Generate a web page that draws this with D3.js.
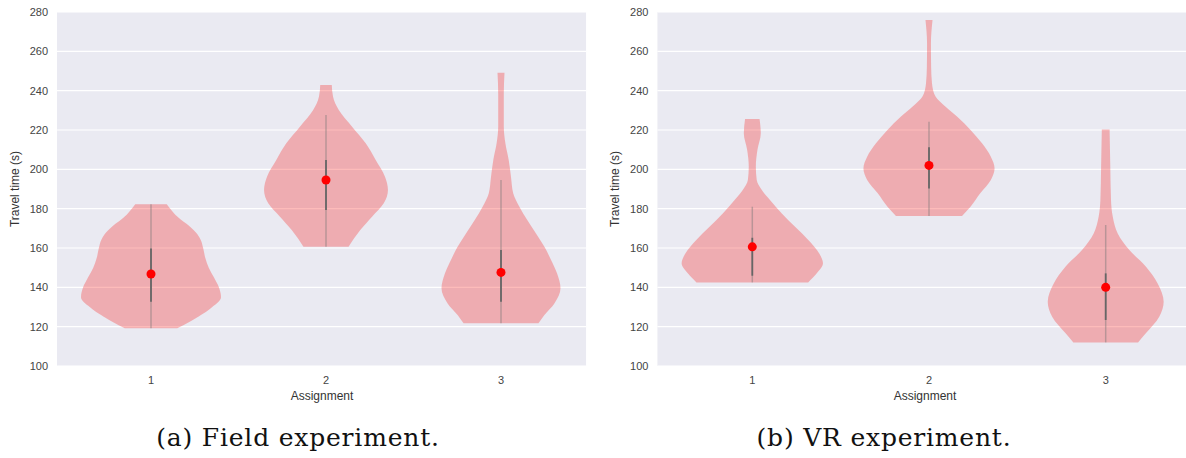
<!DOCTYPE html>
<html lang="en">
<head>
<meta charset="UTF-8">
<title>Travel time violins</title>
<script src="https://d3js.org/d3.v7.min.js"></script>
<style>
    body { margin: 0; background: #fff; }
    .tick-label { font-family: "Liberation Sans", Arial, sans-serif; font-size: 11px; fill: #444; }
    .axis-title { font-family: "Liberation Sans", Arial, sans-serif; font-size: 12px; fill: #333; }
    .caption { font-family: "DejaVu Serif", serif; font-size: 25px; letter-spacing: 0.8px; fill: #111; }
</style>
</head>
<body>
<div id="chart"></div>
<script>
// categories and y ticks
const categories = ["1", "2", "3"];
const yTicks = [100, 120, 140, 160, 180, 200, 220, 240, 260, 280];

// violin outlines: [travel time, half width in category units]
const field1 = [[182.2,0.09],[180,0.11],[176,0.15],[171,0.22],[167,0.265],[164,0.285],[160,0.298],[155,0.31],[150,0.33],[145,0.36],[140,0.388],[135,0.40],[130,0.35],[125,0.27],[121,0.19],[119.2,0.15]];
const field2 = [[242.9,0.033],[237,0.04],[230,0.074],[221.7,0.149],[213.2,0.227],[204.7,0.284],[196.2,0.337],[189.5,0.354],[182.7,0.33],[175.9,0.263],[169.1,0.196],[160.6,0.129]];
const field3 = [[249.1,0.02],[238.6,0.016],[221.7,0.016],[213.2,0.025],[204.7,0.044],[196.2,0.057],[187.7,0.07],[181,0.105],[174.2,0.15],[167.4,0.2],[160.6,0.248],[153.9,0.286],[147.1,0.32],[139.5,0.34],[131.8,0.305],[125.9,0.248],[121.7,0.214]];
const vr1 = [[225.6,0.041],[218.3,0.048],[209.8,0.029],[201.3,0.02],[194.6,0.025],[189.5,0.054],[184.4,0.1],[177.6,0.167],[170.8,0.242],[164.1,0.317],[157.3,0.378],[152.2,0.4],[147.1,0.365],[142.5,0.316]];
const vr2 = [[275.9,0.02],[264,0.011],[252.2,0.012],[243.7,0.017],[237,0.037],[231.8,0.094],[226.7,0.16],[220,0.235],[213.2,0.3],[206.4,0.35],[200.5,0.371],[194.6,0.35],[187.8,0.29],[181,0.235],[176.3,0.187]];
const vr3 = [[220.3,0.022],[201.3,0.026],[184.4,0.03],[175.9,0.04],[167.4,0.068],[159,0.134],[150.5,0.228],[142,0.294],[132.7,0.328],[125.1,0.303],[116.6,0.227],[112,0.183]];

// inner stats per assignment
const fieldWhiskLow = [119.2, 160.6, 121.7];
const fieldWhiskHigh = [182.2, 227.6, 194.6];
const fieldQ1 = [132.7, 179.3, 132.7];
const fieldQ3 = [159.8, 204.7, 159.0];
const fieldMid = [146.8, 194.6, 147.6];

const vrWhiskLow = [142.5, 176.3, 112.0];
const vrWhiskHigh = [181.0, 224.2, 171.7];
const vrQ1 = [145.9, 190.3, 123.4];
const vrQ3 = [165.2, 211.2, 147.1];
const vrMid = [160.6, 202.0, 140.0];

const W = 1186, H = 458;
const plotTop = 12, plotBottom = 366;

const svg = d3.select("#chart").append("svg")
    .attr("width", W).attr("height", H);

const y = d3.scaleLinear().domain([100, 280]).range([plotBottom, plotTop]);

const panels = [
    { range: [151, 501], profiles: [field1, field2, field3],
      lo: fieldWhiskLow, hi: fieldWhiskHigh, q1: fieldQ1, q3: fieldQ3, mid: fieldMid,
      caption: "(a) Field experiment.", capX: 298 },
    { range: [752.3, 1105.7], profiles: [vr1, vr2, vr3],
      lo: vrWhiskLow, hi: vrWhiskHigh, q1: vrQ1, q3: vrQ3, mid: vrMid,
      caption: "(b) VR experiment.", capX: 884 }
];

panels.forEach(p => {
    const x = d3.scaleLinear().domain([0, 2]).range(p.range);
    const left = x(-0.537), right = x(2.486);
    const g = svg.append("g");

    g.append("rect")
        .attr("x", left).attr("y", plotTop)
        .attr("width", right - left).attr("height", plotBottom - plotTop)
        .attr("fill", "#eaeaf2");

    g.selectAll(".grid").data(yTicks).enter().append("line")
        .attr("x1", left).attr("x2", right)
        .attr("y1", d => y(d)).attr("y2", d => y(d))
        .attr("stroke", "#fff").attr("stroke-width", 1.2);

    g.selectAll(".ylab").data(yTicks).enter().append("text")
        .attr("class", "tick-label")
        .attr("x", left - 9).attr("y", d => y(d))
        .attr("dy", "0.35em").attr("text-anchor", "end")
        .text(d => d);

    g.selectAll(".xlab").data(categories).enter().append("text")
        .attr("class", "tick-label")
        .attr("x", (d, i) => x(i)).attr("y", 384)
        .attr("text-anchor", "middle")
        .text(d => d);

    g.append("text").attr("class", "axis-title")
        .attr("x", x(1) - 4).attr("y", 400)
        .attr("text-anchor", "middle").text("Assignment");

    g.append("text").attr("class", "axis-title")
        .attr("transform", `translate(${left - 38},${(plotTop + plotBottom) / 2}) rotate(-90)`)
        .attr("text-anchor", "middle").text("Travel time (s)");

    p.profiles.forEach((prof, i) => {
        const area = d3.area()
            .y(d => y(d[0]))
            .x0(d => x(i - d[1]))
            .x1(d => x(i + d[1]))
            .curve(d3.curveMonotoneY);
        g.append("path").datum(prof)
            .attr("d", area)
            .attr("fill", "rgb(250,30,25)")
            .attr("fill-opacity", 0.3);

        g.append("line")
            .attr("x1", x(i)).attr("x2", x(i))
            .attr("y1", y(p.lo[i])).attr("y2", y(p.hi[i]))
            .attr("stroke", "#777").attr("stroke-opacity", 0.45).attr("stroke-width", 1.5);
        g.append("line")
            .attr("x1", x(i)).attr("x2", x(i))
            .attr("y1", y(p.q1[i])).attr("y2", y(p.q3[i]))
            .attr("stroke", "#666").attr("stroke-width", 1.8);
        g.append("circle")
            .attr("cx", x(i)).attr("cy", y(p.mid[i])).attr("r", 4.5)
            .attr("fill", "#f00");
    });

    svg.append("text").attr("class", "caption")
        .attr("x", p.capX).attr("y", 446)
        .attr("text-anchor", "middle").text(p.caption);
});
</script>
</body>
</html>
